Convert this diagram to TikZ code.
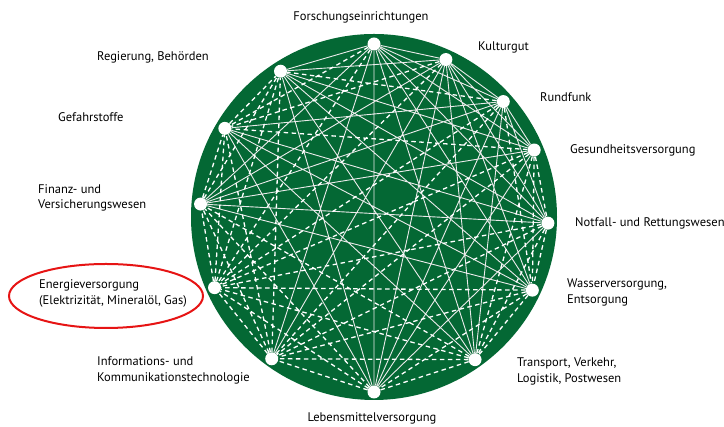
\documentclass[tikz,border=0pt]{standalone}
\usepackage{fontspec}
\setmainfont{PT Sans}
\usetikzlibrary{positioning}
\definecolor{kritisgreen}{RGB}{4,104,52}
\definecolor{markred}{RGB}{230,20,20}

\begin{document}
\begin{tikzpicture}[x=1pt, y=1pt,
  sector/.style={font=\fontsize{12.5}{15.5}\selectfont, text=black, inner sep=0pt, align=left},
  hub/.style={circle, fill=white, minimum size=13pt, inner sep=0pt},
  strong/.style={white!92!black, line width=0.9pt},
  weak/.style={white, line width=1.3pt, dash pattern=on 4.5pt off 3.5pt}]
  \useasboundingbox (0,0) rectangle (724,427);
	\fill[kritisgreen] (374,210) circle (183);
%
  \begin{scope}[shift={(374,209)}]
	\node[hub] (forsch) at (90:174) {};
	\node[hub] (kultur) at (65.6:174) {};
	\node[hub] (rundfunk) at (42:174) {};
	\node[hub] (gesund) at (23:174) {};
	\node[hub] (notfall) at (-1.7:174) {};
	\node[hub] (wasser) at (-24.5:174) {};
	\node[hub] (transport) at (-54.5:174) {};
	\node[hub] (lebensm) at (-90:174) {};
	\node[hub] (ikt) at (-126:174) {};
	\node[hub] (energie) at (-156.4:174) {};
	\node[hub] (finanz) at (175.4:174) {};
	\node[hub] (gefahr) at (149:174) {};
	\node[hub] (regierung) at (122.5:174) {};
  \end{scope}
%
	\draw[strong] (forsch) -- (kultur) (forsch) -- (rundfunk) (forsch) -- (gesund)
		(forsch) -- (notfall) (forsch) -- (wasser) (forsch) -- (transport)
		(forsch) -- (lebensm) (forsch) -- (ikt) (forsch) -- (finanz) (forsch) -- (regierung)
		(kultur) -- (rundfunk) (kultur) -- (gesund) (kultur) -- (notfall) (kultur) -- (wasser)
		(kultur) -- (transport) (kultur) -- (lebensm) (kultur) -- (ikt) (kultur) -- (finanz)
		(kultur) -- (regierung)
		(rundfunk) -- (gesund) (rundfunk) -- (notfall) (rundfunk) -- (lebensm)
		(rundfunk) -- (finanz) (rundfunk) -- (gefahr) (rundfunk) -- (transport)
		(gesund) -- (lebensm) (gesund) -- (regierung) (gesund) -- (finanz)
		(notfall) -- (finanz) (notfall) -- (regierung) (notfall) -- (lebensm) (notfall) -- (gefahr)
		(wasser) -- (finanz) (wasser) -- (regierung) (wasser) -- (gefahr)
		(transport) -- (regierung) (transport) -- (gefahr)
		(lebensm) -- (gefahr) (lebensm) -- (regierung);
%
	\draw[weak] (forsch) -- (energie) (forsch) -- (gefahr)
		(kultur) -- (energie) (kultur) -- (gefahr)
		(rundfunk) -- (wasser) (rundfunk) -- (ikt) (rundfunk) -- (energie) (rundfunk) -- (regierung)
		(gesund) -- (notfall) (gesund) -- (wasser) (gesund) -- (transport) (gesund) -- (ikt)
		(gesund) -- (energie) (gesund) -- (gefahr)
		(notfall) -- (wasser) (notfall) -- (transport) (notfall) -- (ikt) (notfall) -- (energie)
		(wasser) -- (transport) (wasser) -- (lebensm) (wasser) -- (ikt) (wasser) -- (energie)
		(transport) -- (lebensm) (transport) -- (ikt) (transport) -- (energie) (transport) -- (finanz)
		(lebensm) -- (ikt) (lebensm) -- (energie) (lebensm) -- (finanz)
		(ikt) -- (energie) (ikt) -- (finanz) (ikt) -- (gefahr) (ikt) -- (regierung)
		(energie) -- (finanz) (energie) -- (gefahr) (energie) -- (regierung)
		(finanz) -- (gefahr) (finanz) -- (regierung)
		(gefahr) -- (regierung);
%
	\node[sector] (forschlab) at (361,410) {Forschungseinrichtungen};
	\node[sector, anchor=west] (kulturlab) at (478,380) {Kulturgut};
	\node[sector, anchor=west] (rundfunklab) at (540,330) {Rundfunk};
	\node[sector, anchor=west] (gesundlab) at (570,277) {Gesundheitsversorgung};
	\node[sector, anchor=west] (notfalllab) at (575,204) {Notfall- und Rettungswesen};
	\node[sector, anchor=west] (wasserlab) at (567,134.5) {Wasserversorgung,\\Entsorgung};
	\node[sector, anchor=west] (transportlab) at (517,55.5) {Transport, Verkehr,\\Logistik, Postwesen};
	\node[sector] (lebensmlab) at (372,9) {Lebensmittelversorgung};
	\node[sector, anchor=west] (iktlab) at (97,56.5) {Informations- und\\Kommunikationstechnologie};
	\node[sector, anchor=west] (energielab) at (39,133.5) {Energieversorgung\\(Elektrizität, Mineralöl, Gas)};
	\node[sector, anchor=west] (finanzlab) at (38,229) {Finanz- und\\Versicherungswesen};
	\node[sector, anchor=west] (gefahrlab) at (58,310) {Gefahrstoffe};
	\node[sector, anchor=west] (regierunglab) at (97,370) {Regierung, Behörden};
%
	\draw[markred, line width=2pt] (106,131) ellipse (97 and 32);
\end{tikzpicture}
\end{document}
